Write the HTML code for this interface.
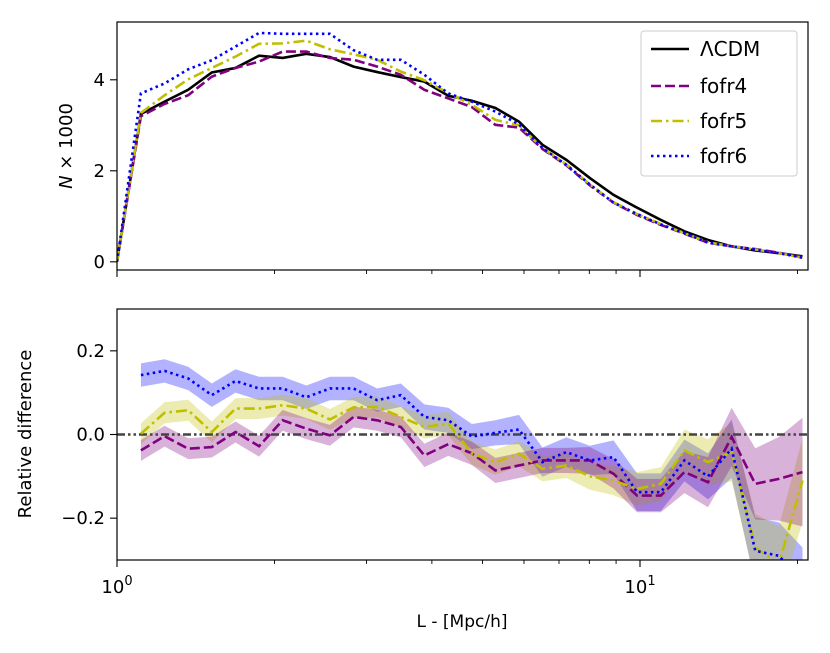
<!DOCTYPE html>
<html><head><meta charset="utf-8"><style>
body{margin:0;background:#fff;}
svg text{font-family:"DejaVu Sans","Liberation Sans",sans-serif;fill:#000;}
</style></head><body>
<svg id="chart" width="830" height="648" xmlns="http://www.w3.org/2000/svg"></svg>
<script>
const Ltop=[1.0,1.111,1.233,1.368,1.518,1.685,1.869,2.074,2.301,2.553,2.834,3.144,3.489,3.87,4.30,4.77,5.29,5.87,6.51,7.23,8.02,8.90,9.87,10.96,12.16,13.49,14.97,16.61,18.43,20.45];
const nLCDM=[0,3.25,3.52,3.78,4.16,4.26,4.53,4.48,4.57,4.50,4.29,4.17,4.06,3.96,3.65,3.54,3.38,3.08,2.57,2.24,1.84,1.47,1.19,0.92,0.67,0.48,0.34,0.25,0.19,0.12];
const nF4=[0,3.20,3.47,3.66,4.07,4.26,4.40,4.62,4.62,4.48,4.44,4.29,4.11,3.78,3.59,3.40,3.01,2.95,2.48,2.12,1.68,1.30,1.03,0.81,0.62,0.42,0.34,0.28,0.20,0.10];
const nF5=[0,3.27,3.66,4.01,4.26,4.51,4.79,4.80,4.86,4.67,4.56,4.44,4.18,3.99,3.71,3.45,3.12,3.00,2.50,2.14,1.70,1.31,1.05,0.83,0.63,0.43,0.34,0.27,0.19,0.09];
const nF6=[0,3.70,3.92,4.23,4.43,4.73,5.03,5.01,5.01,5.01,4.65,4.44,4.44,4.11,3.70,3.52,3.30,3.02,2.50,2.13,1.70,1.30,1.05,0.82,0.63,0.42,0.34,0.27,0.19,0.09];
const Lrel=Ltop.slice(1);
const rF4=[-0.038,-0.004,-0.034,-0.03,0.006,-0.028,0.034,0.014,-0.002,0.042,0.034,0.018,-0.05,-0.023,-0.045,-0.086,-0.074,-0.062,-0.062,-0.062,-0.094,-0.146,-0.146,-0.09,-0.114,-0.006,-0.118,-0.106,-0.09];
const rF5=[0.002,0.052,0.058,0.006,0.062,0.062,0.070,0.062,0.036,0.065,0.066,0.042,0.018,0.026,-0.045,-0.066,-0.046,-0.082,-0.074,-0.10,-0.11,-0.13,-0.118,-0.038,-0.066,-0.042,-0.27,-0.31,-0.11];
const rF6=[0.142,0.152,0.134,0.094,0.128,0.110,0.110,0.089,0.110,0.110,0.082,0.094,0.042,0.034,-0.005,0.004,0.012,-0.066,-0.042,-0.062,-0.054,-0.138,-0.138,-0.062,-0.10,-0.034,-0.278,-0.29,-0.35];
const eF4=[0.025,0.025,0.025,0.025,0.025,0.025,0.025,0.025,0.025,0.025,0.025,0.025,0.028,0.028,0.028,0.03,0.03,0.03,0.03,0.032,0.035,0.04,0.04,0.05,0.06,0.07,0.085,0.1,0.13];
const eF5=[0.025,0.025,0.025,0.025,0.025,0.025,0.025,0.025,0.025,0.025,0.025,0.025,0.028,0.028,0.028,0.03,0.03,0.03,0.03,0.032,0.035,0.04,0.04,0.05,0.055,0.07,0.08,0.09,0.1];
const eF6=[0.028,0.028,0.028,0.028,0.028,0.028,0.028,0.028,0.028,0.028,0.028,0.028,0.03,0.03,0.03,0.03,0.035,0.035,0.035,0.035,0.04,0.045,0.045,0.05,0.055,0.07,0.08,0.08,0.08];
const topTicks=[0,2,4];
const relTicks=[-0.2,0.0,0.2];
const relTickLabels=["\u22120.2","0.0","0.2"];

const NS="http://www.w3.org/2000/svg";
const svg=document.getElementById('chart');
const X0=117,X1=808,PPD=523;
const xs=L=>X0+Math.log10(L)*PPD;
const T={t:22,b:270,vmin:-0.18,vmax:5.27};
const B={t:309,b:560,vmin:-0.30,vmax:0.30};
const yT=v=>T.b-(v-T.vmin)/(T.vmax-T.vmin)*(T.b-T.t);
const yB=v=>B.b-(v-B.vmin)/(B.vmax-B.vmin)*(B.b-B.t);
function mk(tag,attrs,parent){const e=document.createElementNS(NS,tag);for(const k in attrs)e.setAttribute(k,attrs[k]);(parent||svg).appendChild(e);return e;}
const defs=mk('defs',{});
const cp1=mk('clipPath',{id:'c1'},defs);mk('rect',{x:X0,y:T.t,width:X1-X0,height:T.b-T.t},cp1);
const cp2=mk('clipPath',{id:'c2'},defs);mk('rect',{x:X0,y:B.t,width:X1-X0,height:B.b-B.t},cp2);
const gT=mk('g',{'clip-path':'url(#c1)'});

const gB=mk('g',{'clip-path':'url(#c2)'});


const styles={lcdm:{c:'#000',d:''},f4:{c:'#800080',d:'10,4'},f5:{c:'#bfbf00',d:'11,4,2.5,4'},f6:{c:'#0000ff',d:'2.5,3.5'}};
function line(g,L,v,yf,st,name){
  const p=mk('polyline',{points:L.map((l,i)=>xs(l)+','+yf(v[i])).join(' '),fill:'none',stroke:st.c,'stroke-width':2.6,'stroke-dasharray':st.d},g);
  
}
function band(g,L,v,e,col,name){
  const up=L.map((l,i)=>xs(l)+','+yB(v[i]+e[i]));
  const dn=L.map((l,i)=>xs(l)+','+yB(v[i]-e[i])).reverse();
  const p=mk('polygon',{points:up.concat(dn).join(' '),fill:col,'fill-opacity':0.3,stroke:'none'},g);
  
}
line(gT,Ltop,nLCDM,yT,styles.lcdm,'lcdm-line');
line(gT,Ltop,nF4,yT,styles.f4,'fofr4-line');
line(gT,Ltop,nF5,yT,styles.f5,'fofr5-line');
line(gT,Ltop,nF6,yT,styles.f6,'fofr6-line');

band(gB,Lrel,rF6,eF6,'#0000ff','fofr6-band');
band(gB,Lrel,rF5,eF5,'#bfbf00','fofr5-band');
band(gB,Lrel,rF4,eF4,'#800080','fofr4-band');
const zl=mk('line',{x1:X0,x2:X1,y1:yB(0),y2:yB(0),stroke:'#444','stroke-width':2.6,'stroke-dasharray':'8,3,2.5,3,2.5,3'},gB);

line(gB,Lrel,rF4,yB,styles.f4,'fofr4-rel-line');
line(gB,Lrel,rF5,yB,styles.f5,'fofr5-rel-line');
line(gB,Lrel,rF6,yB,styles.f6,'fofr6-rel-line');

[[T,'top-frame'],[B,'bottom-frame']].forEach(([P,n])=>{
  const r=mk('rect',{x:X0,y:P.t,width:X1-X0,height:P.b-P.t,fill:'none',stroke:'#000','stroke-width':1.2});
  
});
const minorL=[2,3,4,5,6,7,8,9,20];
[T,B].forEach(P=>{
  [1,10].forEach(l=>mk('line',{x1:xs(l),x2:xs(l),y1:P.b,y2:P.b+7,stroke:'#000','stroke-width':1.1}));
  minorL.forEach(l=>{if(xs(l)<=X1+0.5)mk('line',{x1:xs(l),x2:xs(l),y1:P.b,y2:P.b+4,stroke:'#000','stroke-width':0.9});});
});
[[1,'0'],[10,'1']].forEach(([l,e])=>{
  const t=mk('text',{x:xs(l),y:593,'font-size':18,'text-anchor':'middle'});
  
  t.innerHTML='10<tspan dy="-8" font-size="13">'+e+'</tspan>';
});
topTicks.forEach(v=>{
  mk('line',{x1:X0-7,x2:X0,y1:yT(v),y2:yT(v),stroke:'#000','stroke-width':1.1});
  const t=mk('text',{x:X0-12,y:yT(v)+6,'font-size':18,'text-anchor':'end'});t.textContent=v;
  
});
relTicks.forEach((v,i)=>{
  mk('line',{x1:X0-7,x2:X0,y1:yB(v),y2:yB(v),stroke:'#000','stroke-width':1.1});
  const t=mk('text',{x:X0-12,y:yB(v)+6,'font-size':18,'text-anchor':'end'});t.textContent=relTickLabels[i];
  
});
</script>
<svg style="position:absolute;left:0;top:0" width="830" height="648" xmlns="http://www.w3.org/2000/svg">
<text x="72" y="146" font-size="18" text-anchor="middle" transform="rotate(-90 72 146)" font-family="DejaVu Sans, Liberation Sans, sans-serif"><tspan font-style="italic">N</tspan> × 1000</text>
<text x="31" y="434" font-size="18" text-anchor="middle" transform="rotate(-90 31 434)" font-family="DejaVu Sans, Liberation Sans, sans-serif">Relative difference</text>
<text x="462" y="627" font-size="17" text-anchor="middle" font-family="DejaVu Sans, Liberation Sans, sans-serif">L - [Mpc/h]</text>
<g font-family="DejaVu Sans, Liberation Sans, sans-serif" font-size="20">
<rect x="641" y="31" width="156" height="145" rx="3" fill="#fff" fill-opacity="0.9" stroke="#ccc" stroke-width="1"/>
<line x1="651" x2="689" y1="49" y2="49" stroke="#000" stroke-width="2.6"/>
<text x="700" y="56">ΛCDM</text>
<line x1="651" x2="689" y1="86" y2="86" stroke="#800080" stroke-width="2.6" stroke-dasharray="10,4"/>
<text x="700" y="93">fofr4</text>
<line x1="651" x2="689" y1="121" y2="121" stroke="#bfbf00" stroke-width="2.6" stroke-dasharray="11,4,2.5,4"/>
<text x="700" y="128">fofr5</text>
<line x1="651" x2="689" y1="156" y2="156" stroke="#0000ff" stroke-width="2.6" stroke-dasharray="2.5,3.5"/>
<text x="700" y="163">fofr6</text>
</g>
</svg>
</body></html>
